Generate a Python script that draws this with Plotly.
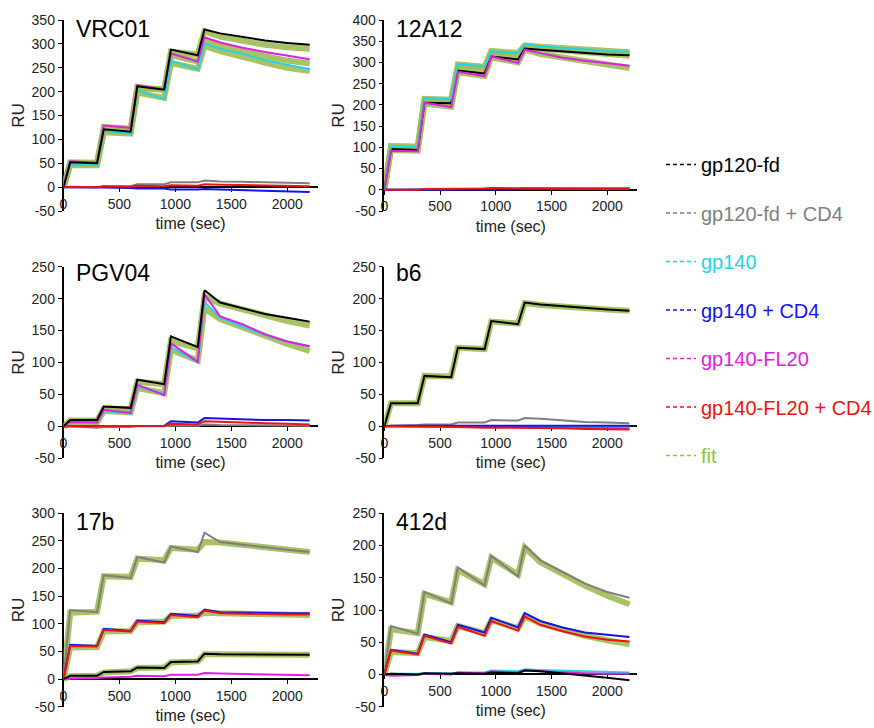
import plotly.graph_objects as go

# ---------------- data ----------------
TIME = [0, 60, 300, 360, 600, 660, 900, 960, 1200, 1260, 1400, 1600, 1800, 2000, 2200]
X_TICKS = [0, 500, 1000, 1500, 2000]

SERIES = ["gp120-fd", "gp120-fd + CD4", "gp140", "gp140 + CD4",
          "gp140-FL20", "gp140-FL20 + CD4", "fit"]
PANEL_TITLES = ["VRC01", "12A12", "PGV04", "b6", "17b", "412d"]
PANEL_YMAX = [350, 400, 250, 250, 300, 250]
Y_MIN = -50

# VRC01
vrc01_gp120fd      = [0, 52, 50, 121, 116, 211, 204, 288, 276, 330, 322, 314, 307, 302, 298]
vrc01_gp120fd_cd4  = [0, 0, 0, 2, 2, 6, 6, 10, 10, 14, 12, 11, 10, 9, 8]
vrc01_gp140        = [0, 47, 46, 118, 111, 202, 184, 265, 246, 300, 290, 279, 266, 256, 247]
vrc01_gp140_cd4    = [0, 0, -1, -1, -2, -3, -3, -5, -5, -4, -5, -6, -7, -8, -10]
vrc01_fl20         = [0, 54, 51, 129, 124, 213, 205, 280, 263, 314, 303, 292, 283, 275, 268]
vrc01_fl20_cd4     = [0, 1, 0, 2, 1, 3, 2, 4, 3, 6, 5, 4, 3, 3, 2]
vrc01_fit_a        = [0, 50, 50, 118, 117, 207, 205, 284, 278, 326, 315, 305, 298, 293, 290]
vrc01_fit_b        = [0, 52, 51, 126, 123, 210, 203, 276, 263, 309, 298, 285, 274, 265, 259]
vrc01_fit_c        = [0, 46, 46, 115, 112, 198, 187, 260, 248, 296, 285, 272, 261, 250, 243]

# 12A12
a12_gp120fd        = [0, 96, 94, 205, 204, 281, 274, 314, 307, 333, 330, 326, 322, 319, 317]
a12_gp120fd_cd4    = [0, 0, 0, 1, 1, 2, 2, 3, 3, 4, 4, 3, 3, 3, 3]
a12_gp140          = [0, 102, 101, 216, 213, 296, 291, 326, 322, 342, 338, 334, 330, 327, 325]
a12_gp140_cd4      = [0, 0, 0, 0, 0, 1, 1, 1, 1, 2, 2, 2, 2, 3, 3]
a12_fl20           = [0, 92, 91, 205, 195, 278, 268, 314, 299, 330, 322, 311, 304, 298, 292]
a12_fl20_cd4       = [0, 0, 0, 2, 2, 3, 3, 4, 3, 4, 3, 3, 2, 2, 2]
a12_fit_a          = [0, 100, 98, 208, 206, 286, 281, 320, 313, 338, 333, 328, 324, 320, 316]
a12_fit_b          = [0, 103, 102, 214, 212, 295, 290, 327, 322, 340, 337, 333, 330, 327, 324]
a12_fit_c          = [0, 94, 92, 203, 196, 277, 268, 312, 300, 330, 320, 311, 302, 294, 287]

# PGV04
pgv_gp120fd        = [0, 10, 10, 31, 29, 73, 66, 141, 124, 213, 194, 185, 176, 170, 164]
pgv_gp120fd_cd4    = [0, 0, -2, -1, -1, 0, 0, 1, 1, 3, 2, 2, 2, 1, 1]
pgv_gp140          = [0, 7, 6, 24, 20, 62, 51, 124, 100, 195, 170, 157, 143, 133, 126]
pgv_gp140_cd4      = [0, 0, 0, 1, 1, 1, 1, 8, 6, 13, 12, 11, 10, 10, 9]
pgv_fl20           = [0, 7, 6, 26, 21, 65, 49, 130, 101, 207, 172, 160, 144, 133, 125]
pgv_fl20_cd4       = [0, 0, 0, 1, 0, 1, 1, 4, 3, 8, 7, 6, 5, 4, 3]
pgv_fit_a          = [0, 9, 9, 28, 27, 70, 66, 134, 122, 203, 192, 183, 173, 165, 158]
pgv_fit_b          = [0, 6, 6, 24, 22, 60, 52, 120, 103, 185, 168, 155, 140, 129, 118]

# b6
b6_gp120fd         = [0, 36, 36, 79, 77, 123, 121, 165, 160, 194, 191, 188, 185, 183, 181]
b6_gp120fd_cd4     = [0, 1, 2, 3, 3, 6, 6, 10, 9, 13, 12, 9, 7, 6, 5]
b6_gp140           = [0, 0, 0, 0, 0, 1, 1, 1, 1, 1, 1, 0, 0, 0, 0]
b6_gp140_cd4       = [0, 1, 1, 1, 1, 2, 2, 2, 2, 2, 2, 2, 2, 2, 1]
b6_fl20            = [0, 0, 0, -1, 0, 0, -1, -1, -1, -1, -2, -2, -2, -3, -3]
b6_fl20_cd4        = [0, 0, 0, -1, -1, -1, -2, -2, -2, -2, -3, -3, -4, -4, -5]
b6_fit_a           = [0, 36, 36, 79, 78, 123, 121, 164, 161, 193, 190, 187, 185, 183, 181]

# 17b
b17_gp120fd        = [0, 6, 6, 13, 14, 21, 20, 31, 32, 46, 45, 45, 44, 44, 44]
b17_gp120fd_cd4    = [0, 125, 121, 188, 183, 221, 211, 240, 230, 265, 248, 243, 238, 234, 230]
b17_gp140_cd4      = [0, 62, 60, 91, 87, 106, 103, 118, 114, 126, 121, 120, 119, 119, 119]
b17_fl20           = [0, 1, 2, 3, 4, 6, 5, 8, 8, 11, 10, 9, 8, 8, 7]
b17_fl20_cd4       = [0, 60, 59, 89, 86, 104, 101, 116, 112, 124, 119, 118, 117, 117, 117]
b17_fit_a          = [0, 120, 122, 186, 185, 218, 215, 237, 234, 248, 247, 243, 238, 234, 230]
b17_fit_b          = [0, 57, 58, 86, 87, 103, 104, 114, 115, 120, 119, 118, 117, 116, 116]
b17_fit_c          = [0, 5, 6, 12, 14, 20, 21, 30, 32, 45, 45, 45, 45, 44, 44]

# 412d
d412_gp120fd       = [0, 1, 0, 2, 1, 2, 1, 3, 2, 6, 5, 2, -1, -5, -9]
d412_gp120fd_cd4   = [0, 75, 63, 128, 110, 166, 138, 184, 152, 200, 177, 159, 141, 128, 119]
d412_gp140         = [0, 1, 1, 2, 2, 3, 3, 6, 5, 8, 7, 6, 5, 4, 3]
d412_gp140_cd4     = [0, 38, 32, 62, 50, 77, 65, 88, 73, 95, 83, 73, 65, 61, 58]
d412_fl20          = [0, -2, -1, 1, 0, 3, 2, 5, 3, 7, 5, 3, 2, 1, 1]
d412_fl20_cd4      = [0, 37, 31, 60, 48, 74, 60, 83, 68, 90, 77, 67, 59, 54, 51]
d412_fit_a         = [0, 70, 64, 125, 112, 162, 140, 181, 155, 197, 174, 155, 138, 122, 109]
d412_fit_b         = [0, 35, 33, 58, 52, 75, 64, 84, 72, 90, 79, 69, 60, 53, 47]

# ---------------- styling ----------------
COLORS = {
    "gp120-fd": "#000000",
    "gp120-fd + CD4": "#7f7f7f",
    "gp140": "#25d3e3",
    "gp140 + CD4": "#1414e6",
    "gp140-FL20": "#e020e0",
    "gp140-FL20 + CD4": "#f01212",
    "fit": "#9fbd55",
}
LEGEND_TEXT = dict(COLORS, fit="#8cc63f")
FONT = "Arial, Liberation Sans, sans-serif"
W, H = 874, 728

panels = [
    {"fits": [vrc01_fit_a, vrc01_fit_b, vrc01_fit_c],
     "data": [("gp120-fd + CD4", vrc01_gp120fd_cd4), ("gp140 + CD4", vrc01_gp140_cd4),
              ("gp140-FL20 + CD4", vrc01_fl20_cd4), ("gp140", vrc01_gp140),
              ("gp140-FL20", vrc01_fl20), ("gp120-fd", vrc01_gp120fd)]},
    {"fits": [a12_fit_a, a12_fit_b, a12_fit_c],
     "data": [("gp120-fd + CD4", a12_gp120fd_cd4), ("gp140 + CD4", a12_gp140_cd4),
              ("gp140-FL20 + CD4", a12_fl20_cd4), ("gp120-fd", a12_gp120fd),
              ("gp140", a12_gp140), ("gp140-FL20", a12_fl20)]},
    {"fits": [pgv_fit_a, pgv_fit_b],
     "data": [("gp120-fd + CD4", pgv_gp120fd_cd4), ("gp140 + CD4", pgv_gp140_cd4),
              ("gp140-FL20 + CD4", pgv_fl20_cd4), ("gp140", pgv_gp140),
              ("gp140-FL20", pgv_fl20), ("gp120-fd", pgv_gp120fd)]},
    {"fits": [b6_fit_a],
     "data": [("gp140", b6_gp140), ("gp140-FL20", b6_fl20), ("gp120-fd + CD4", b6_gp120fd_cd4),
              ("gp140 + CD4", b6_gp140_cd4), ("gp140-FL20 + CD4", b6_fl20_cd4),
              ("gp120-fd", b6_gp120fd)]},
    {"fits": [b17_fit_a, b17_fit_b, b17_fit_c],
     "data": [("gp140-FL20", b17_fl20), ("gp120-fd + CD4", b17_gp120fd_cd4),
              ("gp140 + CD4", b17_gp140_cd4), ("gp140-FL20 + CD4", b17_fl20_cd4),
              ("gp120-fd", b17_gp120fd)]},
    {"fits": [d412_fit_a, d412_fit_b],
     "data": [("gp140", d412_gp140), ("gp140-FL20", d412_fl20), ("gp120-fd", d412_gp120fd),
              ("gp120-fd + CD4", d412_gp120fd_cd4), ("gp140 + CD4", d412_gp140_cd4),
              ("gp140-FL20 + CD4", d412_fl20_cd4)]},
]

# panel frames in pixels: (x_left, x_right, y_top, y_bottom)
COL_X = [(63.5, 317.5), (384.3, 637.3)]
ROW_Y = [(20, 211), (266.7, 458.3), (513.3, 706.7)]
TITLE_Y = [0.953, 0.967, 0.957]

fig = go.Figure()
layout = {}

for i, p in enumerate(panels):
    r, c = divmod(i, 2)
    k = "" if i == 0 else str(i + 1)
    xa, ya = "x" + k, "y" + k
    xl, xr = COL_X[c]
    yt, yb = ROW_Y[r]
    xdom = [xl / W, xr / W]
    ydom = [1 - yb / H, 1 - yt / H]
    ymax = PANEL_YMAX[i]
    zero_pos = ydom[0] + (0 - Y_MIN) / (ymax - Y_MIN) * (ydom[1] - ydom[0])
    yticks = list(range(Y_MIN, ymax + 1, 50))

    for f in p["fits"]:
        fig.add_trace(go.Scatter(x=TIME, y=f, mode="lines", name="fit",
                                 line=dict(color=COLORS["fit"], width=6),
                                 opacity=0.9, showlegend=False, xaxis=xa, yaxis=ya))
    for name, vals in p["data"]:
        fig.add_trace(go.Scatter(x=TIME, y=vals, mode="lines", name=name,
                                 line=dict(color=COLORS[name], width=2),
                                 showlegend=False, xaxis=xa, yaxis=ya))

    layout["xaxis" + k] = dict(
        domain=xdom, range=[0, 2270], anchor="free", position=zero_pos,
        tickvals=X_TICKS, ticks="outside", ticklen=4, tickcolor="black",
        showline=True, linecolor="black", linewidth=1.5, showgrid=False,
        zeroline=False, layer="below traces", automargin=False,
        tickfont=dict(size=14, color="#222", family=FONT),
        title=dict(text="time (sec)", font=dict(size=16, color="#222", family=FONT),
                   standoff=6),
    )
    layout["yaxis" + k] = dict(
        domain=ydom, range=[Y_MIN, ymax], anchor=xa,
        tickvals=yticks, ticktext=[str(v) for v in yticks],
        ticks="outside", ticklen=4, tickcolor="black",
        showline=True, linecolor="black", linewidth=1.5, showgrid=False,
        zeroline=False, layer="below traces", automargin=False,
        tickfont=dict(size=14, color="#222", family=FONT),
        title=dict(text="RU", font=dict(size=17, color="#222", family=FONT), standoff=3),
    )
    fig.add_annotation(text=PANEL_TITLES[i], xref=xa + " domain", yref=ya + " domain",
                       x=0.04, y=TITLE_Y[r], xanchor="left", yanchor="middle",
                       showarrow=False, font=dict(size=23, color="black", family=FONT))

# legend entries
for s in SERIES:
    fig.add_trace(go.Scatter(
        x=[None], y=[None], mode="lines",
        name=f'<span style="color:{LEGEND_TEXT[s]}">{s}</span>',
        line=dict(color=COLORS[s] if s != "fit" else LEGEND_TEXT[s], width=1.5,
                  dash="4px,3px"),
        legendgroup=s, showlegend=True, xaxis="x", yaxis="y"))

layout.update(
    width=W, height=H, margin=dict(l=0, r=0, t=0, b=0, autoexpand=False),
    plot_bgcolor="white", paper_bgcolor="white",
    font=dict(family=FONT),
    legend=dict(x=661 / W, y=1 - 145 / H, xanchor="left", yanchor="top",
                font=dict(size=20, family=FONT), tracegroupgap=19.5,
                itemwidth=30, bgcolor="rgba(0,0,0,0)"),
)
fig.update_layout(**layout)
fig.write_html(
    "out.html",
    config={"displayModeBar": False},
    post_script="document.body.style.margin='0';document.body.style.overflow='hidden';",
)
